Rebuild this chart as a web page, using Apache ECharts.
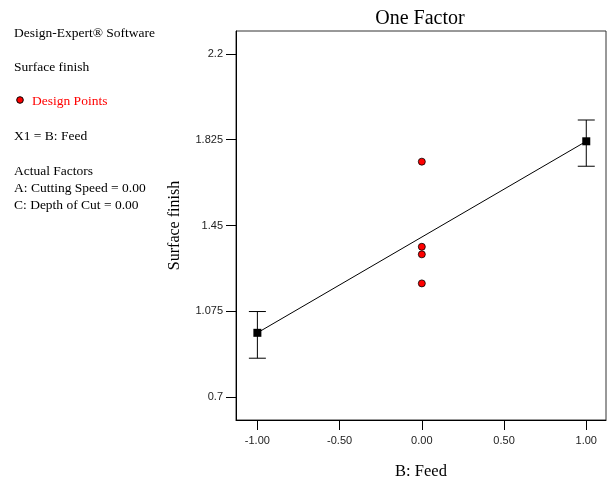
<!DOCTYPE html>
<html>
<head>
<meta charset="utf-8">
<script src="https://cdn.jsdelivr.net/npm/echarts@6/dist/echarts.min.js"></script>
<style>html,body{margin:0;padding:0;background:#fff}#c{width:608px;height:480px}</style>
</head>
<body>
<div id="c"></div>
<script>
// Data
var xTicks = [-1, -0.5, 0, 0.5, 1];
var yTicks = [0.7, 1.075, 1.45, 1.825, 2.2];
var factorLevels = [-1, 1];
var predicted = [0.981, 1.818];
var lsdLow = [0.870, 1.709];
var lsdHigh = [1.074, 1.911];
var designX = [0, 0, 0, 0];
var designY = [1.729, 1.357, 1.324, 1.197];

var serif = '"Liberation Serif", "Times New Roman", serif';
var sans = '"Liberation Sans", Arial, sans-serif';

var chart = echarts.init(document.getElementById('c'), null, {renderer: 'canvas'});

var sideTexts = [
  {t: 'Design-Expert\u00AE Software', y: 33},
  {t: 'Surface finish', y: 67},
  {t: 'X1 = B: Feed', y: 136},
  {t: 'Actual Factors', y: 171},
  {t: 'A: Cutting Speed = 0.00', y: 188},
  {t: 'C: Depth of Cut = 0.00', y: 205}
];
var graphics = sideTexts.map(function (s) {
  return {type: 'text', x: 14, y: s.y, style: {text: s.t, font: '13.5px ' + serif, fill: '#000', textVerticalAlign: 'middle'}};
});
graphics.push({type: 'circle', shape: {cx: 20, cy: 100, r: 3.3}, style: {fill: '#ff0000', stroke: '#000', lineWidth: 1}});
graphics.push({type: 'text', x: 32, y: 101, style: {text: 'Design Points', font: '13.5px ' + serif, fill: '#ff0000', textVerticalAlign: 'middle'}});

var option = {
  animation: false,
  title: {
    text: 'One Factor', left: 415, top: 4, textAlign: 'center',
    textStyle: {fontFamily: serif, fontSize: 20, fontWeight: 'normal', color: '#000'}
  },
  grid: {left: 236, right: 2, top: 31, bottom: 60, show: true, borderColor: '#333', borderWidth: 1,
    containLabel: false, outerBoundsMode: 'none'},
  xAxis: {
    type: 'value', min: -1.13, max: 1.12,
    name: 'B: Feed', nameLocation: 'middle', nameGap: 43,
    nameTextStyle: {fontFamily: serif, fontSize: 16.5, color: '#000'},
    axisLine: {show: true, onZero: false, lineStyle: {color: '#000'}},
    axisTick: {show: true, inside: false, length: 10, customValues: xTicks, lineStyle: {color: '#000'}},
    axisLabel: {customValues: xTicks, margin: 15, fontFamily: sans, fontSize: 11, color: '#222',
      formatter: function (v) { return v.toFixed(2); }},
    splitLine: {show: false}
  },
  yAxis: {
    type: 'value', min: 0.6, max: 2.3,
    name: 'Surface finish', nameLocation: 'middle', nameGap: 53, nameRotate: 90,
    nameTextStyle: {fontFamily: serif, fontSize: 16, color: '#000'},
    axisLine: {show: true, onZero: false, lineStyle: {color: '#000'}},
    axisTick: {show: true, inside: false, length: 10, customValues: yTicks, lineStyle: {color: '#000'}},
    axisLabel: {customValues: yTicks, margin: 13, fontFamily: sans, fontSize: 11, color: '#222',
      formatter: function (v) { return String(+v.toFixed(3)); }},
    splitLine: {show: false}
  },
  graphic: graphics,
  series: [
    {
      type: 'custom',
      data: factorLevels.map(function (x, i) { return [x, lsdLow[i], lsdHigh[i]]; }),
      renderItem: function (params, api) {
        var lo = api.coord([api.value(0), api.value(1)]);
        var hi = api.coord([api.value(0), api.value(2)]);
        var w = 8.5;
        var st = {stroke: '#000', lineWidth: 1};
        return {type: 'group', children: [
          {type: 'line', shape: {x1: lo[0], y1: lo[1], x2: hi[0], y2: hi[1]}, style: st},
          {type: 'line', shape: {x1: lo[0] - w, y1: lo[1], x2: lo[0] + w, y2: lo[1]}, style: st},
          {type: 'line', shape: {x1: hi[0] - w, y1: hi[1], x2: hi[0] + w, y2: hi[1]}, style: st}
        ]};
      },
      z: 2
    },
    {
      type: 'line',
      data: factorLevels.map(function (x, i) { return [x, predicted[i]]; }),
      symbol: 'rect', symbolSize: 8, showSymbol: true,
      itemStyle: {color: '#000'},
      lineStyle: {color: '#000', width: 1},
      z: 3
    },
    {
      type: 'scatter',
      data: designX.map(function (x, i) { return [x, designY[i]]; }),
      symbol: 'circle', symbolSize: 7,
      itemStyle: {color: '#ff0000', opacity: 1, borderColor: '#000', borderWidth: 0.8},
      z: 4
    }
  ]
};
chart.setOption(option);
</script>
</body>
</html>
